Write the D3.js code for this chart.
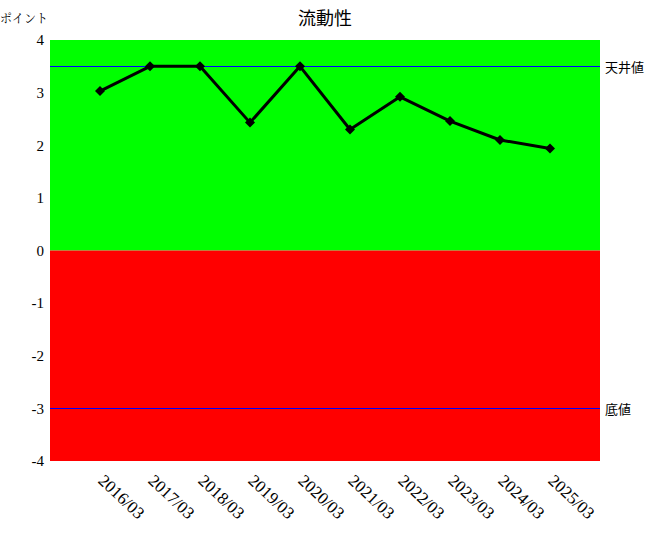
<!DOCTYPE html>
<html><head><meta charset="utf-8">
<script src="https://cdn.jsdelivr.net/npm/d3@7"></script>
<style>body{margin:0;background:#fff}</style>
</head><body>
<svg id="c" width="650" height="540"></svg>
<script>
const categories = ["2016/03","2017/03","2018/03","2019/03","2020/03","2021/03","2022/03","2023/03","2024/03","2025/03"];
const values = [3.03, 3.5, 3.5, 2.43, 3.5, 2.3, 2.92, 2.46, 2.1, 1.94];
const yTicks = [-4,-3,-2,-1,0,1,2,3,4];
const ceilingValue = 3.5;
const floorValue = -3;
const title = "流動性";
const yLabel = "ポイント";
const ceilingLabel = "天井値";
const floorLabel = "底値";

const SERIF = '"Liberation Serif"';
const SANS = '"Noto Sans CJK JP"';
const MINCHO = '"Noto Serif CJK JP"';

const svg = d3.select("#c");
const L = 50, R = 600, T = 40, B = 461;
const x = d3.scaleLinear().domain([0, categories.length + 1]).range([L, R]);
const y = d3.scaleLinear().domain([-4, 4]).range([B, T]);

svg.append("rect").attr("x", L).attr("y", y(4)).attr("width", R - L).attr("height", y(0) - y(4)).attr("fill", "#00ff00");
svg.append("rect").attr("x", L).attr("y", y(0)).attr("width", R - L).attr("height", y(-4) - y(0)).attr("fill", "#ff0000");

[ceilingValue, floorValue].forEach(v => {
  svg.append("line").attr("x1", L).attr("x2", R).attr("y1", Math.round(y(v)) + 0.5).attr("y2", Math.round(y(v)) + 0.5)
    .attr("stroke", "#0000ff").attr("stroke-width", 1);
});

// y axis labels
const yAxis = d3.axisLeft(y).tickValues(yTicks).tickSize(0).tickPadding(6).tickFormat(d => String(d));
const gy = svg.append("g").attr("transform", `translate(${L},0)`).call(yAxis);
gy.select(".domain").remove();
gy.selectAll("text").style("font-family", SERIF).style("font-size", "15px").attr("fill", "#000");

// x axis labels
const gx = svg.append("g");
categories.forEach((c, i) => {
  const px = x(i + 1) + 1, py = 478;
  gx.append("text").attr("x", px).attr("y", py)
    .attr("transform", `rotate(43,${px},${py})`)
    .style("font-family", SERIF).style("font-size", "17px").attr("fill", "#000")
    .attr("dominant-baseline", "central")
    .text(c);
});

const line = d3.line().x((d, i) => x(i + 1)).y(d => y(d));
svg.append("path").datum(values).attr("d", line).attr("fill", "none")
  .attr("stroke", "#000").attr("stroke-width", 3).attr("stroke-linejoin", "round");

const sym = d3.symbol().type(d3.symbolSquare).size(50);
svg.selectAll(".m").data(values).enter().append("path")
  .attr("d", sym).attr("transform", (d, i) => `translate(${x(i + 1)},${y(d)}) rotate(45)`)
  .attr("fill", "#000");

svg.append("text").attr("x", 325).attr("y", 25).attr("text-anchor", "middle")
  .style("font-family", SANS).style("font-size", "18px").attr("fill", "#000").text(title);
svg.append("text").attr("x", 0).attr("y", 23)
  .style("font-family", MINCHO).style("font-size", "12px").attr("fill", "#000").text(yLabel);
svg.append("text").attr("x", 605).attr("y", y(ceilingValue)).attr("dominant-baseline", "central")
  .style("font-family", SANS).style("font-size", "13px").attr("fill", "#000").text(ceilingLabel);
svg.append("text").attr("x", 605).attr("y", y(floorValue)).attr("dominant-baseline", "central")
  .style("font-family", SANS).style("font-size", "13px").attr("fill", "#000").text(floorLabel);
</script>
</body></html>
